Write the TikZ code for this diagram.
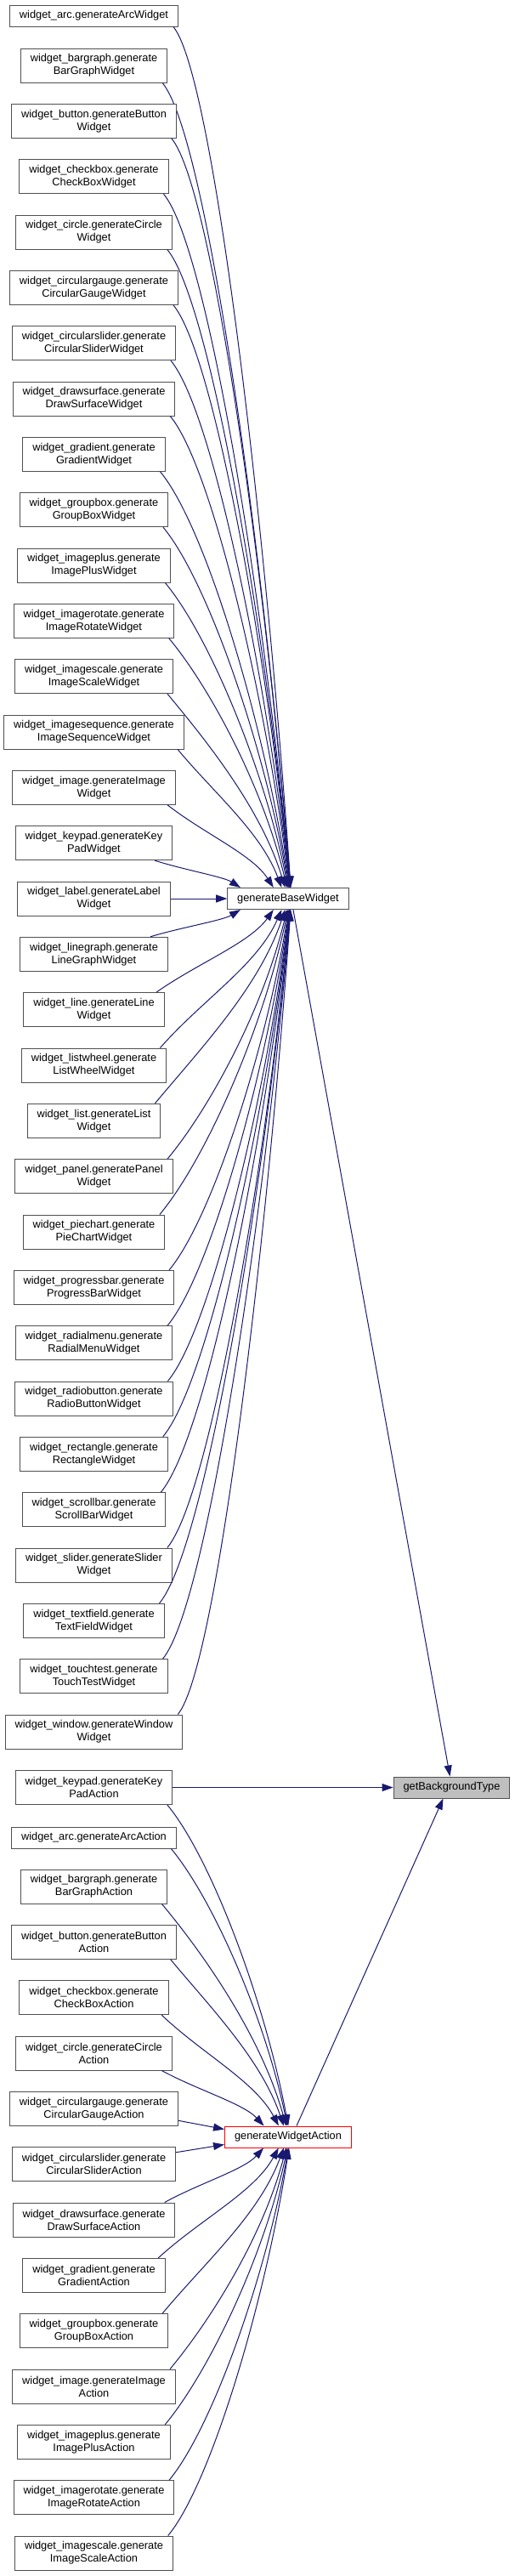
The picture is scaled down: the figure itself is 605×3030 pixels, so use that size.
\documentclass[tikz,border=0pt]{standalone}
\usepackage{fontspec}
\setmainfont{Liberation Sans}
\usetikzlibrary{arrows.meta, positioning, calc}
\definecolor{cEdge}{RGB}{25,25,112}
\definecolor{cBorder}{RGB}{80,80,80}
\definecolor{cCurrent}{RGB}{191,191,191}

\tikzset{
  fn/.style={draw=cBorder, line width=1pt, fill=white, align=center,
    inner xsep=11.5pt, inner ysep=0pt, font=\fontsize{12.8}{15}\selectfont},
  fnone/.style={fn, minimum height=25pt},
  fntwo/.style={fn, minimum height=40pt},
  call/.style={cEdge, line width=1pt, -{Triangle[length=13pt, width=9pt]}},
}

\begin{document}
\begin{tikzpicture}[x=1pt, y=1pt]
\useasboundingbox (0,0) rectangle (605,-3030);

% called functions
\node[fnone] (bw) at (339,-1057) {generateBaseWidget};
\node[fnone, draw=red] (wa) at (339,-2513.5) {generateWidgetAction};
\node[fnone, fill=cCurrent] (gbt) at (531.5,-2102.5) {getBackgroundType};

\draw[call] ([xshift=6pt]bw.south) -- ([xshift=-2pt]gbt.north);
\draw[call] ([xshift=10pt]wa.north) -- ([xshift=-10pt]gbt.south);

% callers
\foreach \yy/\st/\txt [count=\i] in {
  18.5/fnone/{widget\_arc.generateArcWidget},
  77/fntwo/{widget\_bargraph.generate\\BarGraphWidget},
  142.3/fntwo/{widget\_button.generateButton\\Widget},
  207.7/fntwo/{widget\_checkbox.generate\\CheckBoxWidget},
  273/fntwo/{widget\_circle.generateCircle\\Widget},
  338.3/fntwo/{widget\_circulargauge.generate\\CircularGaugeWidget},
  403.7/fntwo/{widget\_circularslider.generate\\CircularSliderWidget},
  469/fntwo/{widget\_drawsurface.generate\\DrawSurfaceWidget},
  534.3/fntwo/{widget\_gradient.generate\\GradientWidget},
  599.7/fntwo/{widget\_groupbox.generate\\GroupBoxWidget},
  665/fntwo/{widget\_imageplus.generate\\ImagePlusWidget},
  730.3/fntwo/{widget\_imagerotate.generate\\ImageRotateWidget},
  795.7/fntwo/{widget\_imagescale.generate\\ImageScaleWidget},
  861/fntwo/{widget\_imagesequence.generate\\ImageSequenceWidget},
  926.3/fntwo/{widget\_image.generateImage\\Widget},
  991.7/fntwo/{widget\_keypad.generateKey\\PadWidget},
  1057/fntwo/{widget\_label.generateLabel\\Widget},
  1122.3/fntwo/{widget\_linegraph.generate\\LineGraphWidget},
  1187.7/fntwo/{widget\_line.generateLine\\Widget},
  1253/fntwo/{widget\_listwheel.generate\\ListWheelWidget},
  1318.3/fntwo/{widget\_list.generateList\\Widget},
  1383.7/fntwo/{widget\_panel.generatePanel\\Widget},
  1449/fntwo/{widget\_piechart.generate\\PieChartWidget},
  1514.3/fntwo/{widget\_progressbar.generate\\ProgressBarWidget},
  1579.7/fntwo/{widget\_radialmenu.generate\\RadialMenuWidget},
  1645/fntwo/{widget\_radiobutton.generate\\RadioButtonWidget},
  1710.3/fntwo/{widget\_rectangle.generate\\RectangleWidget},
  1775.7/fntwo/{widget\_scrollbar.generate\\ScrollBarWidget},
  1841/fntwo/{widget\_slider.generateSlider\\Widget},
  1906.3/fntwo/{widget\_textfield.generate\\TextFieldWidget},
  1971.7/fntwo/{widget\_touchtest.generate\\TouchTestWidget},
  2037/fntwo/{widget\_window.generateWindow\\Widget},
  2102.5/fntwo/{widget\_keypad.generateKey\\PadAction},
  2161.5/fnone/{widget\_arc.generateArcAction},
  2219/fntwo/{widget\_bargraph.generate\\BarGraphAction},
  2284.3/fntwo/{widget\_button.generateButton\\Action},
  2349.7/fntwo/{widget\_checkbox.generate\\CheckBoxAction},
  2415/fntwo/{widget\_circle.generateCircle\\Action},
  2480.3/fntwo/{widget\_circulargauge.generate\\CircularGaugeAction},
  2545.7/fntwo/{widget\_circularslider.generate\\CircularSliderAction},
  2611/fntwo/{widget\_drawsurface.generate\\DrawSurfaceAction},
  2676.3/fntwo/{widget\_gradient.generate\\GradientAction},
  2741.7/fntwo/{widget\_groupbox.generate\\GroupBoxAction},
  2807/fntwo/{widget\_image.generateImage\\Action},
  2872.3/fntwo/{widget\_imageplus.generate\\ImagePlusAction},
  2937.7/fntwo/{widget\_imagerotate.generate\\ImageRotateAction},
  3003/fntwo/{widget\_imagescale.generate\\ImageScaleAction}} {
  \node[\st] (n\i) at (110.5,-\yy) {\txt};
  \ifnum\i<33 \def\tgt{bw}\def\ty{1057}\else \def\tgt{wa}\def\ty{2513.5}\fi
  \pgfmathsetmacro\k{abs(\ty-\yy)/65.33}
  \ifdim\k pt<0.1pt
    \draw[call] (n\i) -- (\tgt);
  \else\ifdim\k pt<0.6pt
    \ifdim\yy pt<\ty pt
      \draw[call] ([yshift=-14pt]n\i.east) -- ([yshift=9pt]\tgt.west);
    \else
      \draw[call] ([yshift=14pt]n\i.east) -- ([yshift=-9pt]\tgt.west);
    \fi
  \else
    \pgfmathsetmacro\ins{6+15/(\k*\k)}
    \pgfmathsetmacro\off{4-60/(\k^1.5)}
    \ifdim\yy pt<\ty pt
      \def\tailanc{south east}\def\tipanc{north}
    \else
      \def\tailanc{north east}\def\tipanc{south}
    \fi
    \draw[call] let \p1=([xshift=-\ins pt]n\i.\tailanc),
        \p2=([xshift=\off pt]\tgt.\tipanc),
        \n1={\x2-\x1}, \n2={\y2-\y1},
        \n3={0.35*sign(\n2)*min(abs(\n2),1.2*\n1)} in
      (\p1) .. controls ($(\p1)+(0.35*\n1,\n3)$)
        and ($(\p2)+(-0.2*\n1,-0.4*\n2)$) .. (\p2);
  \fi\fi
}

\draw[call] (n33) -- (gbt);
\end{tikzpicture}
\end{document}
